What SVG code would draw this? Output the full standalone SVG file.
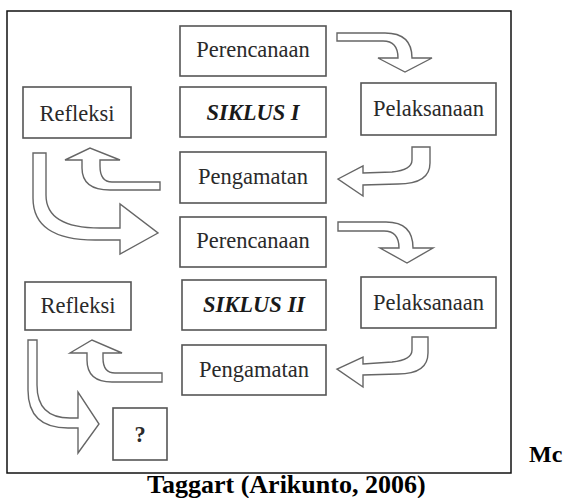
<svg xmlns="http://www.w3.org/2000/svg" width="568" height="498" viewBox="0 0 568 498">
<style>
.box{fill:#fff;stroke:#555;stroke-width:1.6}
.lbl{font-family:"Liberation Serif","Times New Roman",serif;font-size:22.5px;fill:#2a2a2a;text-anchor:middle}
.bi{font-weight:bold;font-style:italic;fill:#1a1a1a}
.arr{fill:#fff;stroke:#666;stroke-width:1.4;stroke-linejoin:miter}
.cap{font-family:"Liberation Serif","Times New Roman",serif;font-size:26px;font-weight:bold;fill:#000}
</style>
<rect width="568" height="498" fill="#fff"/>
<rect x="7" y="11" width="504" height="462" fill="none" stroke="#111" stroke-width="1.5"/>
<g id="connectors">
<path class="arr" d="M337,33 L385,33 Q412,33 412,58 L432,58 L405,72 L378,58 L398,58 Q398,41 383,41 L337,41 Z"/>
<path class="arr" d="M412,147 L430,147 L430,163 Q430,184 398,184 L363,185 L363,196 L338,179 L363,166 L363,173 L392,172 Q412,170 412,160 Z"/>
<path class="arr" d="M160,182 L112,182 Q100,182 100,166 L100,160 L120,160 L90,148 L65,160 L82,160 L82,168 Q82,190 110,190 L160,190 Z"/>
<path class="arr" d="M33,153 L46,153 L46,195 Q46,228 100,228 L120,228 L120,204 L158,233 L120,254 L120,240 L95,240 Q33,240 33,198 Z"/>
<path class="arr" d="M338,222 L386,222 Q413,222 413,248 L433,248 L407,263 L380,248 L399,248 Q399,231 384,231 L338,231 Z"/>
<path class="arr" d="M412,337 L428,337 L428,353 Q428,374 398,374 L363,375 L363,387 L337,369 L363,357 L363,364 L392,362 Q412,360 412,350 Z"/>
<path class="arr" d="M162,373 L115,373 Q103,373 103,358 L103,353 L122,353 L92,340 L70,353 L87,353 L87,360 Q87,382 112,382 L162,382 Z"/>
<path class="arr" d="M28,340 L37,340 L37,385 Q37,418 70,418 L78,418 L78,392 L99,424 L78,453 L78,428 L68,428 Q28,428 28,390 Z"/>
</g>
<g id="perencanaan1"><rect class="box" x="180" y="26" width="146" height="50"/><text class="lbl" x="253" y="57">Perencanaan</text></g>
<g id="siklus1"><rect class="box" x="180" y="87" width="146" height="50"/><text class="lbl bi" x="253" y="120">SIKLUS I</text></g>
<g id="pengamatan1"><rect class="box" x="180" y="152" width="146" height="51"/><text class="lbl" x="253" y="184">Pengamatan</text></g>
<g id="perencanaan2"><rect class="box" x="180" y="217" width="146" height="50"/><text class="lbl" x="253" y="248">Perencanaan</text></g>
<g id="siklus2"><rect class="box" x="182" y="280" width="144" height="50"/><text class="lbl bi" x="254" y="312">SIKLUS II</text></g>
<g id="pengamatan2"><rect class="box" x="182" y="345" width="144" height="50"/><text class="lbl" x="254" y="377">Pengamatan</text></g>
<g id="refleksi1"><rect class="box" x="23" y="87" width="108" height="51"/><text class="lbl" x="77" y="121">Refleksi</text></g>
<g id="refleksi2"><rect class="box" x="25" y="282" width="106" height="48"/><text class="lbl" x="78" y="313">Refleksi</text></g>
<g id="pelaksanaan1"><rect class="box" x="361" y="83" width="135" height="52"/><text class="lbl" x="428.5" y="116">Pelaksanaan</text></g>
<g id="pelaksanaan2"><rect class="box" x="361" y="277" width="135" height="51"/><text class="lbl" x="428.5" y="310">Pelaksanaan</text></g>
<g id="question"><rect class="box" x="113" y="408" width="54" height="52"/><text class="lbl" x="140" y="442" style="font-weight:bold">?</text></g>
<text class="cap" x="529" y="462" style="font-size:24px">Mc</text>
<text class="cap" x="147" y="493">Taggart (Arikunto, 2006)</text>
</svg>
